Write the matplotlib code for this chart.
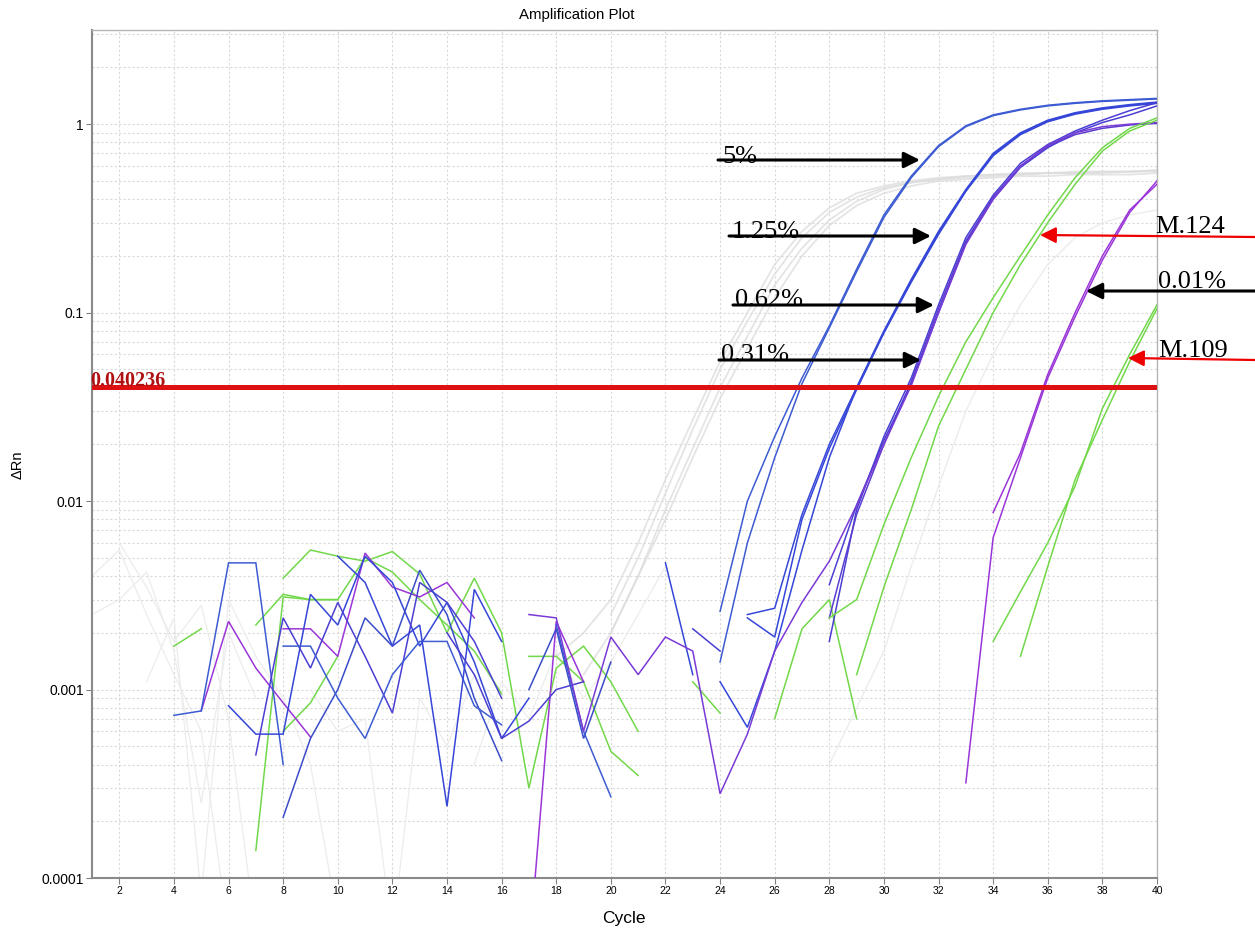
import numpy as np
import matplotlib
matplotlib.use("Agg")
import matplotlib.pyplot as plt

# ---- data (delta Rn per cycle), each list starts at the cycle in *_start ----
threshold = 0.040236

# 5% standard
std5_a_start, std5_a = 24, [0.0026, 0.010, 0.022, 0.045, 0.085, 0.17, 0.33, 0.53, 0.77, 0.98, 1.12, 1.2, 1.26, 1.3, 1.33, 1.35, 1.37]
std5_b_start, std5_b = 24, [0.0014, 0.006, 0.017, 0.042, 0.083, 0.165, 0.32, 0.52, 0.76, 0.97, 1.11, 1.19, 1.25, 1.29, 1.32, 1.34, 1.36]

# 1.25% standard
std125_a_start, std125_a = 25, [0.0025, 0.0027, 0.0085, 0.02, 0.04, 0.08, 0.15, 0.27, 0.45, 0.7, 0.9, 1.05, 1.15, 1.22, 1.27, 1.31]
std125_b_start, std125_b = 25, [0.0024, 0.0019, 0.008, 0.019, 0.039, 0.078, 0.145, 0.26, 0.44, 0.68, 0.88, 1.03, 1.13, 1.2, 1.25, 1.29]
std125_c_start, std125_c = 24, [0.0011, 0.00063, 0.0016, 0.0055, 0.017, 0.04, 0.079, 0.148, 0.265, 0.445, 0.69, 0.89, 1.04, 1.14, 1.21, 1.26, 1.3]

# 0.62% / 0.31% standards
std062_a_start, std062_a = 28, [0.0018, 0.009, 0.022, 0.045, 0.11, 0.25, 0.42, 0.62, 0.78, 0.92, 1.05, 1.18, 1.3]
std062_b_start, std062_b = 28, [0.0024, 0.0085, 0.02, 0.043, 0.105, 0.24, 0.41, 0.6, 0.76, 0.88, 0.95, 0.99, 1.01]
std031_a_start, std031_a = 28, [0.0036, 0.0095, 0.021, 0.042, 0.1, 0.235, 0.4, 0.59, 0.75, 0.9, 1.02, 1.12, 1.25]
std031_b_start, std031_b = 17, [0.0025, 0.0024, 0.0006, 0.0019, 0.0012, 0.0019, 0.0016, 0.00028, 0.00058, 0.0016, 0.0029,
                                0.0048, 0.0095, 0.02, 0.041, 0.1, 0.23, 0.4, 0.6, 0.77, 0.9, 0.97, 1.0, 1.02]

# 0.01% standard
std001_a_start, std001_a = 33, [0.00032, 0.0064, 0.017, 0.045, 0.095, 0.19, 0.34, 0.5]
std001_b_start, std001_b = 34, [0.0087, 0.018, 0.047, 0.1, 0.2, 0.35, 0.48]

# samples
m124_a_start, m124_a = 28, [0.0024, 0.003, 0.0075, 0.017, 0.036, 0.07, 0.12, 0.2, 0.33, 0.52, 0.75, 0.95, 1.08]
m124_b_start, m124_b = 29, [0.0012, 0.0035, 0.009, 0.025, 0.05, 0.1, 0.18, 0.3, 0.48, 0.72, 0.92, 1.05]
m109_a_start, m109_a = 34, [0.0018, 0.0033, 0.006, 0.012, 0.031, 0.06, 0.11]
m109_b_start, m109_b = 35, [0.0015, 0.0045, 0.013, 0.027, 0.055, 0.105]

# other wells (grey, in background)
grey_a_start, grey_a = 18, [0.0015, 0.002, 0.003, 0.006, 0.013, 0.027, 0.055, 0.1, 0.18, 0.27, 0.36, 0.43, 0.47,
                            0.5, 0.52, 0.53, 0.54, 0.55, 0.55, 0.56, 0.56, 0.56, 0.57]
grey_b_start, grey_b = 19, [0.0012, 0.002, 0.004, 0.009, 0.019, 0.04, 0.075, 0.14, 0.22, 0.31, 0.39, 0.45, 0.49,
                            0.51, 0.53, 0.54, 0.54, 0.55, 0.55, 0.55, 0.56, 0.56]
grey_c_start, grey_c = 20, [0.002, 0.004, 0.008, 0.017, 0.035, 0.065, 0.12, 0.2, 0.29, 0.37, 0.43, 0.47, 0.5,
                            0.51, 0.52, 0.53, 0.53, 0.54, 0.54, 0.54, 0.55]
grey_d_start, grey_d = 20, [0.0025, 0.005, 0.011, 0.024, 0.05, 0.09, 0.16, 0.25, 0.34, 0.41, 0.46, 0.49, 0.51,
                            0.52, 0.53, 0.54, 0.55, 0.55, 0.56, 0.56, 0.57]
grey_e_start, grey_e = 28, [0.0004, 0.0008, 0.0016, 0.0045, 0.012, 0.03, 0.06, 0.11, 0.18, 0.25, 0.3, 0.33, 0.35]

grey_noise = [
    (1, [0.004, 0.0055, 0.0025, 0.0012, 0.0006, 0.00005]),
    (1, [0.0025, 0.003, 0.0042, 0.0016, 0.00025, 0.002, 0.0009]),
    (2, [0.006, 0.0035, 0.0018, 0.0028, 0.0007, 0.00005]),
    (3, [0.0011, 0.0024, 0.00008, 0.003, 0.0015, 0.0009, 0.0004, 0.00006]),
    (9, [0.001, 0.0006, 0.0007, 0.00005, 0.0009, 0.0005, 0.0012, 0.0008]),
    (15, [0.0004, 0.0011, 0.0007, 0.0016, 0.0009, 0.0014, 0.0025, 0.0045]),
]

# baseline noise of the coloured wells
green_noise = [
    (4, [0.0017, 0.0021]),
    (8, [0.0039, 0.0055, 0.0051, 0.0048, 0.0054, 0.0041, 0.002, 0.0039, 0.002, 0.0003, 0.0013, 0.0017, 0.0011, 0.0006]),
    (7, [0.00014, 0.0031, 0.003, 0.003, 0.005, 0.0042, 0.003, 0.0022, 0.0016, 0.00095]),
    (7, [0.0022, 0.0032, 0.003, 0.003]),
    (17, [0.0015, 0.0015, 0.0011, 0.00047, 0.00035]),
    (23, [0.0011, 0.00075]),
    (26, [0.0007, 0.0021, 0.003, 0.0007]),
    (8, [0.0006, 0.00085, 0.0015]),
]
purple_noise = [
    (5, [0.00077, 0.0023, 0.0013, 0.00085, 0.00056]),
    (8, [0.0021, 0.0021, 0.0015, 0.0053, 0.0035, 0.0031, 0.0037, 0.0024]),
    (17, [0.00004, 0.0023, 0.0011]),
]
blue_noise = [
    (4, [0.00073, 0.00077, 0.0047, 0.0047, 0.0004]),
    (6, [0.00082, 0.00058, 0.00058, 0.0032, 0.0022, 0.0051, 0.0037, 0.0017, 0.0029, 0.0014, 0.00055, 0.0009]),
    (7, [0.00045, 0.0024, 0.0013, 0.0029, 0.0015, 0.00075, 0.0037, 0.0029, 0.0018, 0.0009]),
    (8, [0.00021, 0.00055, 0.001, 0.0024, 0.0017, 0.0043, 0.0025, 0.0009, 0.00042]),
    (8, [0.0017, 0.0017, 0.0009, 0.00055, 0.0012, 0.0018, 0.0018, 0.00082, 0.00065]),
    (10, [0.0051, 0.0037, 0.0017, 0.0022, 0.00024, 0.0034, 0.0018]),
    (14, [0.002, 0.0012, 0.00055, 0.00068, 0.001, 0.0011]),
    (17, [0.001, 0.0021, 0.00055, 0.0014]),
    (18, [0.0022, 0.0006, 0.00027]),
    (22, [0.0047, 0.0012]),
    (23, [0.0021, 0.0016]),
]

x_ticks = list(range(2, 41, 2))
y_ticks = [0.0001, 0.001, 0.01, 0.1, 1]
y_tick_labels = ["0.0001", "0.001", "0.01", "0.1", "1"]

BLUE5 = "#3d5bd2"
BLUE125 = "#3546d8"
BLUE062 = "#4a3fd2"
PURPLE = "#9a35d8"
GREEN = "#72d84a"
GREY = "#dcdcdc"

W, H = 1255, 931
fig = plt.figure(figsize=(W / 100, H / 100), dpi=100)
ax = fig.add_axes([92 / W, 1 - 878 / H, (1157 - 92) / W, (878 - 30) / H])


def draw(start, vals, color, lw=1.1, alpha=1.0, z=3):
    cyc = np.arange(start, start + len(vals))
    ax.plot(cyc, vals, color=color, lw=lw, alpha=alpha, zorder=z, solid_joinstyle="miter")


for s, v in grey_noise:
    draw(s, v, "#ececec", lw=0.9, z=1)
for s, v in [(grey_a_start, grey_a), (grey_b_start, grey_b), (grey_c_start, grey_c),
             (grey_d_start, grey_d)]:
    draw(s, v, GREY, lw=1.3, alpha=0.75, z=1)
draw(grey_e_start, grey_e, "#ececec", lw=1.0, z=1)

for s, v in green_noise:
    draw(s, v, GREEN)
for s, v in purple_noise:
    draw(s, v, PURPLE)
for i, (s, v) in enumerate(blue_noise):
    draw(s, v, [BLUE5, BLUE125, BLUE062, "#3a4cc8"][i % 4])

draw(std5_a_start, std5_a, BLUE5)
draw(std5_b_start, std5_b, BLUE5)
draw(std125_a_start, std125_a, BLUE125)
draw(std125_b_start, std125_b, BLUE125)
draw(std125_c_start, std125_c, BLUE125)
draw(std062_a_start, std062_a, BLUE062)
draw(std062_b_start, std062_b, "#5b3ed0")
draw(std031_a_start, std031_a, BLUE062)
draw(std031_b_start, std031_b, "#7a3ad6")
draw(std001_a_start, std001_a, PURPLE)
draw(std001_b_start, std001_b, PURPLE)
draw(m124_a_start, m124_a, GREEN)
draw(m124_b_start, m124_b, GREEN)
draw(m109_a_start, m109_a, GREEN)
draw(m109_b_start, m109_b, GREEN)

ax.axhline(threshold, color="#dd1111", lw=3.6, zorder=6)

ax.set_yscale("log")
ax.set_xlim(1, 40)
ax.set_ylim(1e-4, 3.16)
ax.set_xticks(x_ticks)
ax.set_xticklabels([str(t) for t in x_ticks], fontsize=7.5, family="Liberation Sans")
ax.set_yticks(y_ticks)
ax.set_yticklabels(y_tick_labels, fontsize=10, family="Liberation Sans")
ax.minorticks_off()
ax.yaxis.set_minor_locator(matplotlib.ticker.LogLocator(base=10, subs=np.arange(2, 10)))
ax.yaxis.set_minor_formatter(matplotlib.ticker.NullFormatter())
ax.tick_params(axis="y", which="minor", length=0)
ax.tick_params(axis="both", which="major", length=4, color="#808080", pad=2)

ax.grid(True, axis="x", which="major", ls=(0, (2, 2)), color="#d9d9d9", lw=0.8, zorder=0)
ax.grid(True, axis="y", which="both", ls=(0, (2, 2)), color="#d9d9d9", lw=0.8, zorder=0)
ax.set_axisbelow(True)

for side in ["left", "bottom"]:
    ax.spines[side].set_color("#8a8a8a")
    ax.spines[side].set_linewidth(1.5)
for side in ["top", "right"]:
    ax.spines[side].set_color("#b5b5b5")
    ax.spines[side].set_linewidth(1.0)

fig.text(577 / W, 1 - 15 / H, "Amplification Plot", ha="center", va="center",
         fontsize=10.8, family="Liberation Sans")
fig.text(624 / W, 1 - 918 / H, "Cycle", ha="center", va="center", fontsize=12.5, family="Liberation Sans")
fig.text(18 / W, 1 - 465 / H, "\u0394Rn", ha="center", va="center", rotation=90,
         fontsize=10.5, family="Liberation Sans")

fig.text(90 / W, 1 - 386 / H, "0.040236", ha="left", va="baseline", fontsize=14.5,
         family="Liberation Serif", weight="bold", color="#b01010", zorder=7)


def fp(x, y):
    return (x / W, 1 - y / H)


def arrow(x0, y0, x1, y1, color, lw):
    fig.add_artist(matplotlib.patches.FancyArrowPatch(
        fp(x0, y0), fp(x1, y1), transform=fig.transFigure, arrowstyle="-|>",
        mutation_scale=24, lw=lw, color=color, shrinkA=0, shrinkB=0, zorder=8))


labels = [
    ("5%", 722, 163, 718, 160, 920, 160, "black"),
    ("1.25%", 732, 238, 729, 236, 931, 236, "black"),
    ("0.62%", 735, 306, 733, 305, 934, 305, "black"),
    ("0.31%", 721, 361, 719, 360, 921, 360, "black"),
    ("M.124", 1155, 233, 1255, 237, 1040, 235, "#ee0000"),
    ("0.01%", 1158, 288, 1255, 291, 1086, 291, "black"),
    ("M.109", 1158, 357, 1255, 360, 1128, 358, "#ee0000"),
]
for txt, tx, ty, x0, y0, x1, y1, col in labels:
    fig.text(tx / W, 1 - ty / H, txt, ha="left", va="baseline", fontsize=19,
             family="Liberation Serif", color="black")
    arrow(x0, y0, x1, y1, col, 1.6 if col != "black" else 2.2)

fig.savefig("out.png", dpi=100)
